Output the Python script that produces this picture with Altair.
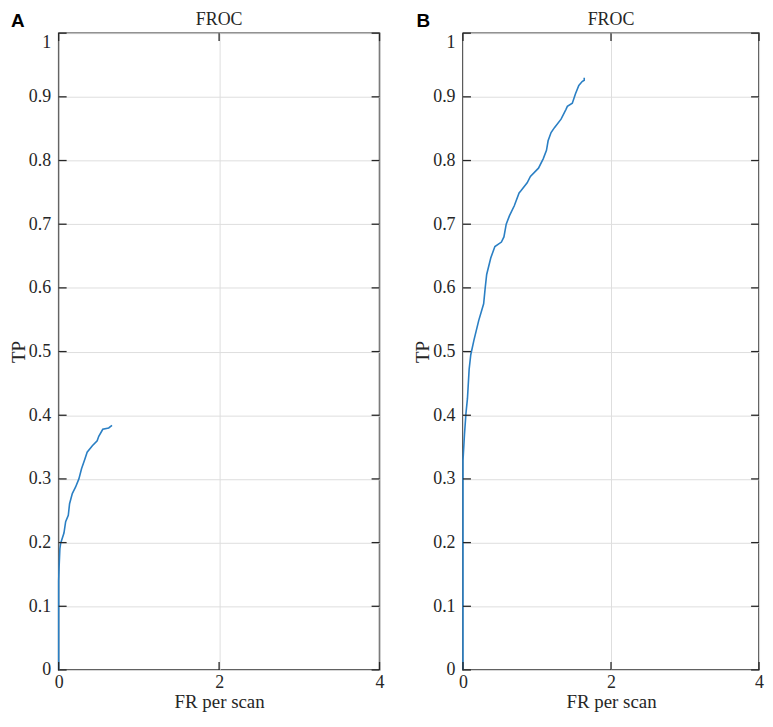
import altair as alt
import pandas as pd

# ---- data ----
a_fr = [0.0, 0.0, 0.005, 0.015, 0.025, 0.066, 0.087, 0.12, 0.136, 0.17, 0.21, 0.252,
        0.285, 0.326, 0.355, 0.42, 0.48, 0.50, 0.55, 0.624, 0.665]
a_tp = [0.0, 0.14, 0.16, 0.19, 0.199, 0.215, 0.233, 0.243, 0.261, 0.277, 0.287, 0.300,
        0.316, 0.331, 0.342, 0.352, 0.36, 0.367, 0.378, 0.380, 0.384]

b_fr = [0, 0, 0.02, 0.04, 0.06, 0.083, 0.105, 0.148, 0.213, 0.279,
        0.30, 0.32, 0.375, 0.431, 0.519, 0.553, 0.584, 0.627, 0.693, 0.758,
        0.78, 0.867, 0.911, 1.02, 1.085, 1.128, 1.15, 1.19, 1.238, 1.325,
        1.39, 1.41, 1.477, 1.52, 1.565, 1.61, 1.638, 1.638]
b_tp = [0, 0.329, 0.37, 0.403, 0.426, 0.472, 0.495, 0.518, 0.549, 0.575,
        0.600, 0.621, 0.647, 0.665, 0.672, 0.680, 0.700, 0.713, 0.729, 0.749,
        0.752, 0.765, 0.775, 0.788, 0.803, 0.816, 0.831, 0.844, 0.852, 0.865,
        0.880, 0.885, 0.890, 0.905, 0.918, 0.924, 0.926, 0.93]

ytick_values = [0, 0.1, 0.2, 0.3, 0.4, 0.5, 0.6, 0.7, 0.8, 0.9, 1]
xtick_values = [0, 2, 4]

panel_letters = ["A", "B"]
panel_title = "FROC"
x_title = "FR per scan"
y_title = "TP"

LINE_COLOR = "#2a7fc4"
DARK = "#262626"
SERIF = "Liberation Serif"


def panel(fr, tp, letter, W, H, title_y, letter_xy):
    df = pd.DataFrame({"fr": fr, "tp": tp, "idx": list(range(len(fr)))})
    xs = alt.Scale(domain=[0, 4], nice=False, zero=False)
    ys = alt.Scale(domain=[0, 1], nice=False, zero=False)
    common = dict(grid=True, ticks=False, domain=False, labelFlush=False,
                  format="~g", labelFont=SERIF, labelFontSize=18, labelColor=DARK,
                  titleFont=SERIF, titleFontSize=19, titleFontWeight="normal",
                  titleColor=DARK, gridColor="#dedede", gridWidth=1)
    ax_x = alt.Axis(values=xtick_values, title=x_title, labelPadding=4,
                    titlePadding=1, **common)
    ax_y = alt.Axis(values=ytick_values, title=y_title, labelPadding=8,
                    titlePadding=0,
                    labelBaseline={"condition": {"test": "datum.value == 1",
                                                 "value": "top"},
                                   "value": "middle"},
                    **common)

    line = alt.Chart(df).mark_line(color=LINE_COLOR, strokeWidth=1.6).encode(
        x=alt.X("fr:Q", scale=xs, axis=ax_x),
        y=alt.Y("tp:Q", scale=ys, axis=ax_y),
        order="idx:Q",
    )

    ydf = pd.DataFrame({"tp": ytick_values})
    xdf = pd.DataFrame({"fr": xtick_values})
    tick_style = dict(color=DARK, strokeWidth=1.3)
    left = alt.Chart(ydf).mark_rule(**tick_style).encode(
        y=alt.Y("tp:Q", scale=ys, axis=ax_y), x=alt.value(0), x2=alt.value(8))
    right = alt.Chart(ydf).mark_rule(**tick_style).encode(
        y=alt.Y("tp:Q", scale=ys, axis=ax_y), x=alt.value(W - 8), x2=alt.value(W))
    bottom = alt.Chart(xdf).mark_rule(**tick_style).encode(
        x=alt.X("fr:Q", scale=xs, axis=ax_x), y=alt.value(H - 8), y2=alt.value(H))
    top = alt.Chart(xdf).mark_rule(**tick_style).encode(
        x=alt.X("fr:Q", scale=xs, axis=ax_x), y=alt.value(0), y2=alt.value(8))

    lab = alt.Chart(pd.DataFrame({"t": [letter]})).mark_text(
        font="Liberation Sans", fontWeight="bold", fontSize=19, color="black",
        align="center", baseline="middle").encode(
        text="t:N", x=alt.value(letter_xy[0]), y=alt.value(letter_xy[1]))

    ttl = alt.Chart(pd.DataFrame({"t": [panel_title]})).mark_text(
        font=SERIF, fontSize=18, color=DARK, align="center",
        baseline="alphabetic").encode(
        text="t:N", x=alt.value(W / 2), y=alt.value(title_y))

    return alt.layer(line, left, right, bottom, top, lab, ttl).properties(
        width=W, height=H)


pA = panel(a_fr, a_tp, panel_letters[0], 323, 641, -8, (-41, -12))
pB = panel(b_fr, b_tp, panel_letters[1], 298, 641, -8, (-40, -12))

chart = alt.hconcat(pA, pB, spacing=27).properties(
    padding={"left": 0, "top": 0, "right": 0, "bottom": 0}
).configure_view(
    stroke=DARK, strokeWidth=1.5
)

chart.save("out.html", embed_options={"renderer": "svg", "actions": False})
